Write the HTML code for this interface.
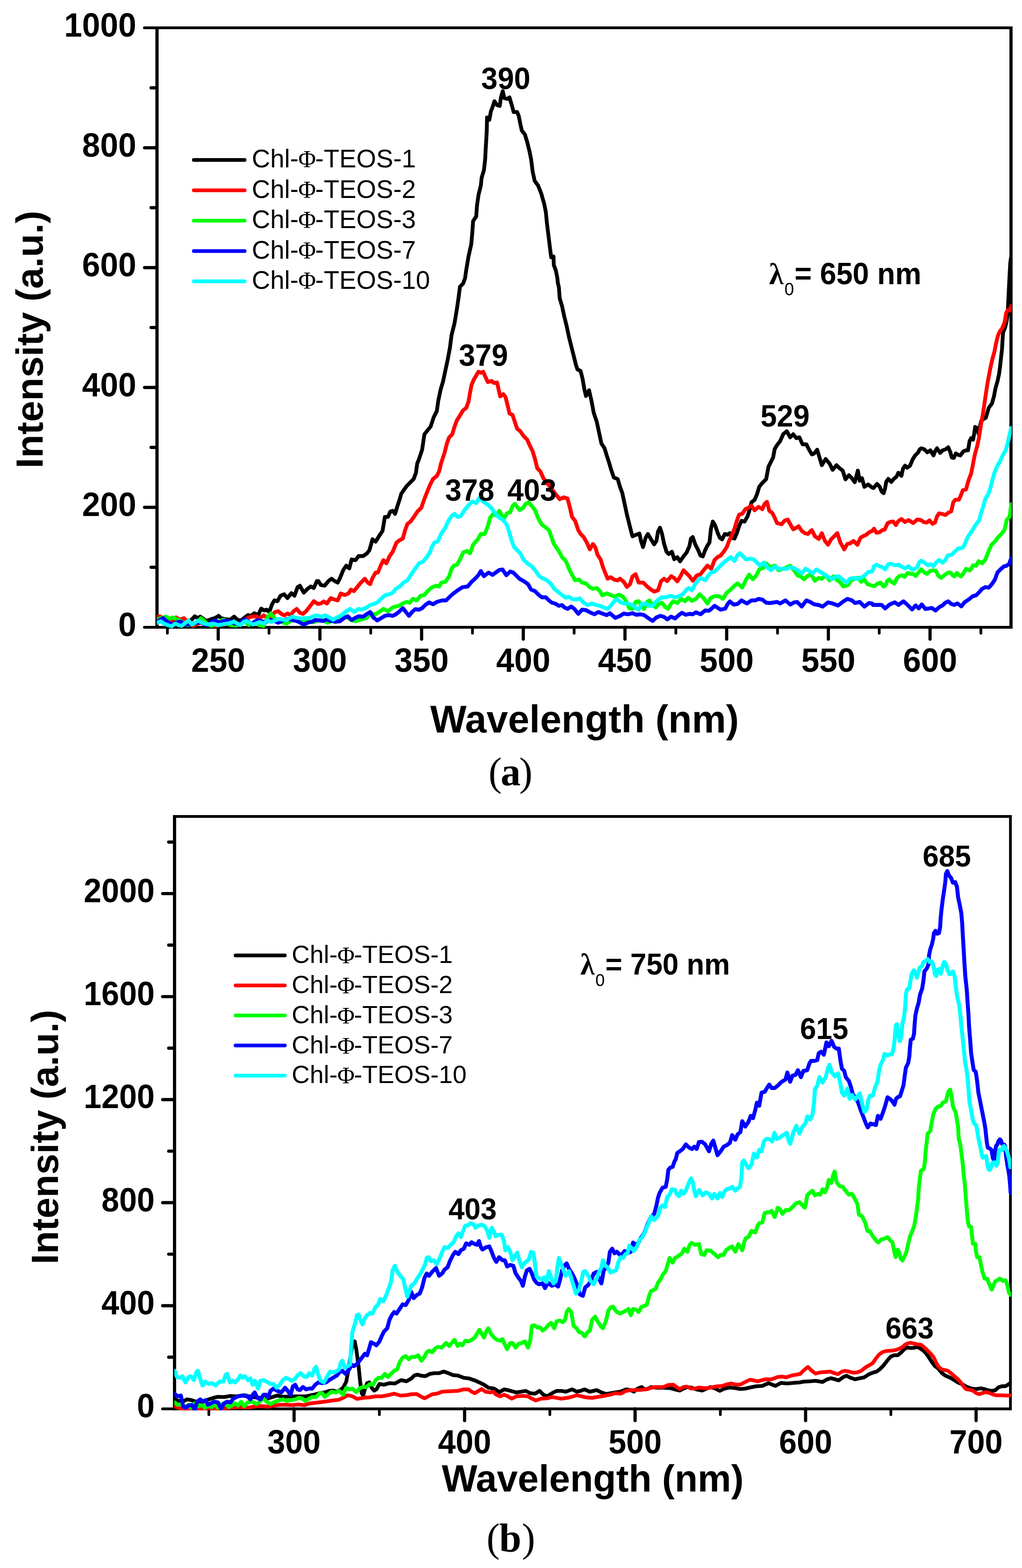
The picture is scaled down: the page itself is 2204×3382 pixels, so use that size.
<!DOCTYPE html>
<html lang="en"><head><meta charset="utf-8"><title>Fluorescence spectra</title>
<style>html,body{margin:0;padding:0;background:#fff}body{width:2204px;height:3382px}svg{display:block}text{font-family:"Liberation Sans",Arial,sans-serif;fill:#000}.b{font-weight:bold}.tk{font-weight:bold;font-size:70px}.lg{font-size:55px}.pk{font-weight:bold;font-size:63.5px}.sy{font-family:"Liberation Serif","DejaVu Serif",serif}.cap{font-family:"Liberation Serif","DejaVu Serif",serif}.ax{stroke:#000;stroke-width:6.8;fill:none;stroke-linecap:round}.cv{fill:none;stroke-linejoin:round;stroke-linecap:round}.ll{stroke-width:8;stroke-linecap:round}</style></head><body>
<svg width="2204" height="3382" viewBox="0 0 2204 3382">
<rect width="2204" height="3382" fill="#fff"/>
<g class="ax">
<path stroke-linecap="butt" stroke-width="6.9" d="M338.6 57.0 V1356.0"/>
<path stroke-linecap="butt" stroke-width="6.8" d="M2180.3 57.0 V1356.0"/>
<path stroke-width="6" d="M311.4 60.0 H2180.3"/>
<path stroke-width="6" d="M311.4 1353.0 H2180.3"/>
<path stroke-width="6.9" d="M325.8 1223.5 H338.6 M311.8 1094.3 H338.6 M325.8 965.0 H338.6 M311.8 835.8 H338.6 M325.8 706.5 H338.6 M311.8 577.3 H338.6 M325.8 448.0 H338.6 M311.8 318.8 H338.6 M325.8 189.5 H338.6 M470.6 1353.0 V1378.5 M689.9 1353.0 V1378.5 M909.2 1353.0 V1378.5 M1128.5 1353.0 V1378.5 M1347.8 1353.0 V1378.5 M1567.1 1353.0 V1378.5 M1786.4 1353.0 V1378.5 M2005.7 1353.0 V1378.5"/>
<path stroke-width="5.9" d="M361.0 1353.0 V1365.8 M580.2 1353.0 V1365.8 M799.5 1353.0 V1365.8 M1018.9 1353.0 V1365.8 M1238.2 1353.0 V1365.8 M1457.5 1353.0 V1365.8 M1676.8 1353.0 V1365.8 M1896.1 1353.0 V1365.8 M2115.3 1353.0 V1365.8"/>
</g>
<clipPath id="cla"><rect x="338.1" y="60.0" width="1843.7" height="1296.4"/></clipPath>
<g clip-path="url(#cla)">
<polyline class="cv" stroke="#000000" stroke-width="8.2" points="338.3,1333.3 346.7,1331.7 356.7,1335.0 366.7,1338.3 380.0,1337.3 393.3,1338.3 406.7,1340.7 415.0,1335.0 420.0,1329.3 426.7,1333.3 431.7,1330.0 436.7,1333.3 445.0,1339.3 456.7,1335.0 463.3,1333.3 471.7,1328.3 476.7,1333.3 483.3,1335.0 496.7,1336.7 505.0,1330.0 511.7,1336.7 520.0,1338.3 530.0,1330.0 535.0,1326.7 541.7,1328.3 548.3,1322.7 556.7,1326.7 563.3,1312.7 570.0,1316.7 575.0,1315.0 580.7,1320.0 586.7,1303.3 591.7,1295.0 598.3,1296.7 605.0,1285.0 612.7,1281.7 620.0,1290.0 628.3,1279.3 635.0,1285.0 641.7,1266.7 646.7,1263.3 655.0,1278.3 663.3,1270.0 670.0,1265.0 676.7,1268.3 683.3,1253.3 686.7,1253.3 691.7,1261.7 700.0,1263.3 708.3,1253.3 715.0,1248.3 721.7,1253.3 728.3,1256.7 733.3,1246.7 740.0,1230.0 746.7,1220.0 753.3,1226.0 758.3,1206.7 766.7,1208.3 773.3,1199.3 783.3,1199.3 791.7,1193.3 796.7,1186.7 803.3,1163.3 810.0,1168.3 818.3,1155.0 825.0,1145.0 830.0,1115.0 836.7,1115.0 841.7,1103.3 847.0,1101.7 852.0,1108.3 857.0,1091.7 862.0,1076.7 865.3,1065.0 868.7,1060.0 877.0,1048.3 883.7,1041.7 892.0,1033.3 897.0,1020.0 899.7,1000.0 903.7,990.0 910.3,970.0 915.3,936.7 922.0,928.3 928.7,920.0 935.3,900.0 942.0,886.7 945.3,863.3 950.3,840.0 955.3,823.3 960.3,800.0 965.3,776.7 970.3,750.0 973.7,723.3 980.3,696.7 985.3,666.7 988.7,643.3 992.0,618.3 998.7,611.7 1003.0,600.0 1005.3,583.3 1010.3,553.3 1016.3,526.7 1018.7,500.0 1020.3,476.7 1027.0,466.7 1028.7,443.3 1032.0,420.0 1037.0,400.0 1038.7,383.3 1043.7,366.7 1046.3,343.3 1047.7,316.7 1049.7,283.3 1050.3,253.3 1055.3,258.3 1058.7,240.0 1062.0,231.7 1066.3,218.3 1072.0,226.7 1077.7,228.3 1080.3,210.0 1084.3,196.7 1087.7,211.7 1095.3,213.3 1098.7,210.0 1103.7,226.7 1107.7,241.7 1115.3,241.7 1118.7,250.0 1122.0,266.7 1125.3,281.7 1132.0,290.0 1137.0,306.7 1142.0,326.7 1145.3,343.3 1148.7,370.0 1153.0,390.0 1160.3,400.0 1167.0,416.7 1173.7,440.0 1177.0,456.7 1179.7,483.3 1183.0,510.0 1186.3,536.7 1188.7,555.0 1193.7,553.3 1194.3,571.7 1198.7,583.3 1202.0,600.0 1203.0,610.0 1205.3,620.0 1207.0,643.3 1212.0,660.0 1217.0,683.3 1222.0,703.3 1227.0,726.7 1232.0,746.7 1237.0,766.7 1242.0,786.7 1245.3,796.7 1252.0,800.0 1256.3,816.7 1260.3,840.0 1263.7,854.0 1270.3,841.7 1275.3,863.3 1280.3,890.0 1287.0,910.0 1292.0,933.3 1297.0,956.7 1303.7,966.7 1308.7,983.3 1313.7,998.3 1317.0,1010.0 1323.7,1030.0 1332.0,1033.3 1337.0,1050.0 1342.0,1063.3 1347.0,1086.7 1352.0,1110.0 1357.0,1130.0 1362.0,1150.0 1364.0,1156.7 1372.3,1153.3 1379.0,1150.7 1382.3,1166.7 1386.7,1180.0 1392.3,1160.0 1397.3,1151.7 1404.0,1163.3 1410.7,1174.0 1415.7,1166.7 1419.0,1146.7 1423.3,1138.3 1427.3,1150.0 1432.3,1173.3 1437.3,1190.0 1442.3,1195.0 1449.0,1190.0 1454.0,1206.0 1460.7,1201.7 1466.7,1210.7 1474.0,1200.0 1480.7,1191.7 1486.7,1178.3 1490.0,1161.7 1494.0,1158.3 1499.0,1173.3 1505.7,1186.7 1510.7,1198.3 1515.7,1200.0 1520.7,1186.7 1525.7,1176.7 1530.0,1170.0 1533.3,1140.0 1537.3,1125.0 1542.3,1133.3 1547.3,1148.3 1552.3,1160.0 1557.3,1163.3 1563.3,1151.7 1569.0,1153.3 1574.0,1150.0 1579.0,1160.0 1584.0,1161.7 1589.0,1150.0 1594.0,1135.0 1599.0,1123.3 1605.7,1125.0 1612.3,1113.3 1617.3,1096.7 1620.7,1083.3 1627.3,1078.3 1632.3,1066.7 1637.3,1050.0 1644.0,1041.7 1652.3,1033.3 1657.3,1006.7 1662.3,996.7 1667.3,986.7 1670.7,968.3 1675.7,960.0 1682.3,951.7 1689.0,936.7 1696.7,930.0 1704.0,943.3 1710.7,936.7 1717.3,945.0 1724.0,943.3 1730.7,958.3 1739.0,958.3 1744.0,968.3 1750.7,980.0 1755.7,978.3 1762.3,970.0 1767.3,986.7 1772.3,1003.3 1780.7,990.0 1789.0,1000.0 1795.7,1013.3 1804.0,1003.3 1810.7,1010.0 1817.3,1015.0 1823.3,1034.0 1830.7,1025.0 1837.3,1031.7 1843.3,1040.0 1850.0,1015.0 1854.0,1036.7 1859.0,1031.7 1864.0,1050.0 1872.3,1045.0 1881.0,1051.7 1883.7,1052.6 1891.4,1043.8 1896.9,1049.3 1901.3,1060.3 1905.7,1063.6 1908.9,1052.6 1911.1,1039.5 1915.5,1032.9 1922.1,1039.5 1927.6,1032.9 1933.1,1028.5 1937.4,1019.7 1944.0,1026.3 1947.3,1011.0 1951.7,1004.4 1956.1,1008.8 1962.6,1004.4 1968.1,991.0 1973.6,982.3 1980.2,975.7 1983.5,969.1 1986.8,966.9 1993.3,969.1 1999.9,975.7 2006.5,971.3 2013.1,982.3 2016.4,973.5 2020.7,966.9 2027.3,976.8 2032.8,971.3 2039.4,969.1 2044.9,964.7 2049.2,974.6 2052.5,986.7 2056.9,987.7 2061.3,977.9 2066.8,981.2 2071.2,982.3 2077.7,973.5 2083.2,971.3 2087.6,971.3 2090.9,951.6 2094.2,945.0 2098.6,948.3 2101.8,929.7 2102.9,920.9 2107.3,923.1 2110.6,936.2 2113.9,916.5 2116.1,907.7 2121.6,903.4 2126.0,901.2 2129.2,890.2 2132.5,879.2 2139.1,870.5 2143.5,855.1 2146.8,837.6 2151.2,822.2 2154.5,806.9 2156.6,791.6 2158.8,771.8 2161.0,752.1 2162.1,732.4 2163.2,717.0 2167.6,706.1 2170.9,692.9 2173.1,675.4 2174.2,653.4 2175.3,631.5 2176.4,609.6 2177.5,587.7 2178.8,565.8 2180.3,555.9"/>
<polyline class="cv" stroke="#ff0000" stroke-width="8.3" points="338.3,1330.0 345.0,1329.3 350.0,1333.3 355.0,1337.3 363.3,1340.0 371.7,1337.3 380.0,1331.7 388.3,1336.7 396.7,1333.3 405.0,1341.7 416.7,1350.0 426.7,1345.0 436.7,1342.7 446.7,1346.7 456.7,1348.3 466.7,1350.0 476.7,1345.0 486.7,1346.7 496.7,1341.7 506.7,1343.3 516.7,1345.0 526.7,1338.3 536.7,1331.7 546.7,1329.3 553.3,1330.0 560.0,1333.3 568.3,1327.3 575.0,1331.7 583.3,1330.0 593.3,1320.0 600.0,1318.3 606.7,1324.0 613.3,1327.3 620.0,1323.3 626.7,1326.7 633.3,1318.3 640.0,1313.3 646.7,1321.7 653.3,1324.0 660.0,1318.3 666.7,1310.0 676.7,1296.7 685.0,1302.7 691.7,1301.7 698.3,1297.3 705.0,1301.7 713.3,1290.0 720.0,1292.7 728.3,1295.0 735.0,1280.0 743.3,1283.3 751.7,1280.0 756.7,1271.7 763.3,1275.0 770.0,1266.7 778.3,1256.7 786.7,1248.3 793.3,1256.7 798.3,1260.0 803.3,1246.7 810.0,1235.0 815.0,1235.0 821.7,1218.3 826.7,1208.3 833.3,1215.0 840.0,1200.0 847.0,1190.0 850.3,1181.7 855.3,1170.0 862.0,1165.0 868.7,1161.7 873.7,1143.3 878.7,1130.0 885.3,1125.0 893.7,1113.3 900.3,1103.3 908.7,1095.0 913.7,1080.0 920.3,1063.3 927.0,1046.7 933.7,1033.3 942.0,1026.7 947.0,1016.7 951.0,1000.0 953.7,991.7 958.7,976.7 963.7,956.7 968.7,943.3 975.3,936.7 980.3,920.0 985.3,906.7 993.7,893.3 998.7,885.0 1005.3,880.0 1010.3,866.7 1013.7,846.7 1017.0,830.0 1022.0,818.3 1027.0,810.0 1032.0,801.7 1037.0,804.0 1042.0,801.7 1047.0,813.3 1052.0,824.0 1060.3,821.7 1065.3,826.0 1072.0,825.0 1075.3,840.0 1078.7,855.0 1085.3,850.0 1090.3,856.7 1095.3,876.7 1098.7,891.7 1105.3,895.0 1110.3,910.0 1115.3,925.0 1122.0,930.0 1128.7,940.0 1137.0,948.3 1142.0,960.0 1148.7,973.3 1153.7,990.0 1158.7,1010.0 1165.3,1016.7 1172.0,1031.7 1180.3,1043.3 1187.0,1050.0 1193.7,1060.0 1200.3,1068.3 1207.0,1076.7 1215.3,1072.7 1223.7,1075.0 1228.7,1093.3 1233.7,1115.0 1240.3,1123.3 1247.0,1143.3 1252.0,1151.7 1258.7,1158.3 1265.3,1170.0 1272.0,1185.0 1278.7,1173.3 1283.7,1180.0 1288.7,1196.7 1295.3,1206.7 1300.3,1223.3 1307.0,1240.0 1310.3,1248.3 1317.0,1245.0 1325.3,1250.7 1332.0,1251.7 1337.0,1248.3 1345.3,1255.0 1352.0,1266.0 1358.7,1260.0 1364.0,1243.3 1370.7,1238.3 1377.3,1256.7 1387.3,1256.7 1395.7,1265.0 1404.0,1271.7 1410.7,1276.0 1419.0,1273.3 1425.7,1253.3 1432.3,1248.3 1439.0,1253.3 1447.3,1242.7 1454.0,1246.7 1460.7,1254.0 1467.3,1243.3 1474.0,1230.0 1480.7,1236.7 1487.3,1243.3 1494.0,1252.7 1502.3,1241.7 1510.7,1238.3 1517.3,1230.0 1525.7,1220.0 1534.0,1226.7 1540.7,1208.3 1547.3,1201.7 1554.0,1198.3 1560.7,1190.0 1567.3,1180.0 1572.3,1166.7 1577.3,1156.7 1584.0,1140.0 1589.0,1123.3 1594.0,1110.0 1600.7,1108.3 1607.3,1098.3 1614.0,1095.0 1620.7,1090.7 1627.3,1100.7 1635.7,1093.3 1644.0,1098.3 1649.0,1086.7 1654.0,1082.3 1659.0,1101.7 1665.7,1106.7 1670.7,1116.7 1675.7,1128.3 1685.7,1130.7 1692.3,1122.7 1699.0,1120.7 1705.7,1133.3 1710.7,1141.7 1717.3,1138.3 1722.3,1135.0 1729.0,1145.0 1735.7,1150.0 1742.3,1151.7 1750.7,1143.3 1757.3,1156.7 1765.7,1162.7 1772.3,1150.0 1779.0,1166.7 1785.7,1175.0 1792.3,1163.3 1799.0,1156.7 1805.7,1150.0 1812.3,1170.0 1820.7,1185.0 1827.3,1173.3 1834.0,1171.7 1840.7,1166.7 1849.0,1175.0 1855.7,1160.0 1860.7,1156.7 1867.3,1154.0 1874.0,1148.3 1881.0,1145.0 1884.8,1140.3 1890.3,1149.1 1896.9,1148.0 1902.4,1143.6 1907.8,1142.5 1914.4,1128.2 1921.0,1125.4 1926.5,1125.0 1932.0,1132.6 1937.4,1123.9 1944.0,1119.5 1951.7,1126.0 1959.4,1121.7 1969.2,1128.2 1978.0,1120.6 1985.7,1121.7 1992.2,1126.0 1998.8,1127.1 2004.3,1122.3 2010.9,1129.8 2016.4,1127.1 2020.7,1114.0 2025.1,1107.4 2031.7,1108.5 2039.4,1110.7 2045.9,1105.2 2051.4,1103.0 2055.8,1083.3 2060.2,1077.8 2067.9,1077.8 2072.3,1068.0 2076.6,1057.0 2083.2,1055.9 2086.5,1043.8 2089.8,1032.9 2094.2,1021.9 2096.4,1011.0 2098.6,1000.0 2099.7,993.2 2102.9,977.9 2107.3,962.5 2110.6,947.2 2112.8,934.0 2116.1,912.1 2119.4,894.6 2122.7,872.7 2126.0,850.7 2129.2,828.8 2132.5,811.3 2135.8,793.7 2140.2,774.0 2144.6,758.7 2147.9,741.1 2152.3,723.6 2155.6,715.9 2161.0,708.3 2166.5,695.1 2169.8,675.4 2173.1,668.8 2177.5,669.9 2180.8,660.0"/>
<polyline class="cv" stroke="#00ff00" stroke-width="8.4" points="338.3,1336.7 346.7,1333.3 358.3,1330.0 365.0,1335.0 371.7,1331.7 380.0,1335.0 388.3,1338.3 396.7,1343.3 403.3,1348.3 415.0,1346.7 426.7,1343.3 433.3,1333.3 440.0,1338.3 446.7,1346.7 456.7,1350.0 466.7,1345.0 476.7,1338.3 483.3,1336.7 490.0,1341.7 496.7,1348.3 510.0,1349.3 520.0,1345.0 526.7,1340.0 536.7,1348.3 550.0,1340.0 558.3,1348.3 568.3,1350.0 573.3,1340.0 578.3,1330.0 583.3,1323.3 590.0,1330.0 596.7,1340.0 606.7,1341.7 618.3,1345.0 628.3,1338.3 636.7,1338.3 646.7,1341.7 656.7,1340.0 666.7,1340.7 676.7,1341.7 686.7,1338.3 696.7,1338.3 706.7,1343.3 716.7,1338.3 723.3,1341.7 733.3,1335.0 746.7,1330.0 756.7,1337.3 766.7,1340.0 776.7,1336.7 790.0,1333.3 800.0,1323.3 810.0,1325.0 820.0,1318.3 826.7,1313.3 836.7,1318.3 847.0,1310.0 853.7,1308.3 860.3,1306.7 868.7,1301.7 877.0,1298.3 883.7,1300.0 890.3,1291.7 898.7,1295.0 907.0,1285.0 915.3,1283.3 923.7,1273.3 932.0,1266.7 940.3,1263.3 947.0,1265.0 952.0,1256.7 960.3,1255.0 968.7,1243.3 973.7,1226.7 978.7,1220.0 985.3,1218.3 992.0,1206.7 998.7,1191.7 1007.0,1188.3 1013.7,1193.3 1020.3,1175.0 1030.3,1163.3 1037.0,1151.7 1045.3,1151.7 1052.0,1135.0 1057.0,1116.7 1063.7,1108.3 1070.3,1111.7 1077.0,1101.7 1082.0,1111.7 1087.0,1118.3 1093.7,1106.7 1100.3,1105.0 1105.3,1091.7 1110.3,1086.7 1115.3,1093.3 1120.3,1100.0 1127.0,1096.7 1133.7,1086.7 1140.3,1083.3 1147.0,1091.7 1153.7,1100.0 1158.7,1113.3 1163.7,1123.3 1168.7,1131.7 1175.3,1136.7 1183.7,1143.3 1188.7,1156.7 1193.7,1171.7 1200.3,1181.7 1207.0,1191.7 1212.0,1201.7 1220.3,1210.0 1227.0,1226.7 1233.7,1240.0 1240.3,1251.7 1248.7,1250.0 1255.3,1256.7 1263.7,1258.3 1272.0,1266.7 1278.7,1270.0 1287.0,1268.3 1293.7,1275.0 1298.7,1284.0 1308.7,1280.0 1317.0,1283.3 1325.3,1286.7 1335.3,1282.7 1343.7,1287.3 1350.3,1296.7 1357.0,1311.7 1364.0,1313.3 1370.7,1298.3 1377.3,1296.7 1382.3,1305.0 1389.0,1313.3 1395.7,1298.3 1400.7,1295.0 1407.3,1305.0 1414.0,1310.0 1420.7,1303.3 1427.3,1300.0 1434.0,1308.3 1440.7,1313.3 1447.3,1301.7 1452.3,1296.7 1460.7,1300.7 1469.0,1291.7 1477.3,1296.7 1484.0,1289.3 1492.3,1296.0 1500.7,1291.7 1509.0,1281.7 1517.3,1290.0 1525.7,1301.7 1532.3,1290.0 1540.7,1286.0 1550.7,1286.0 1559.0,1291.7 1567.3,1278.3 1575.7,1271.7 1584.0,1263.3 1590.7,1258.3 1600.7,1267.3 1609.0,1250.0 1615.7,1239.3 1623.3,1249.3 1630.7,1241.7 1637.3,1228.3 1645.7,1225.0 1652.3,1215.0 1660.7,1223.3 1670.7,1220.0 1679.0,1230.0 1689.0,1226.7 1697.3,1223.3 1704.0,1220.0 1712.3,1230.0 1720.7,1241.7 1727.3,1243.3 1734.0,1249.3 1742.3,1241.7 1749.0,1238.3 1757.3,1252.7 1765.7,1246.7 1772.3,1248.3 1780.7,1240.0 1789.0,1251.7 1797.3,1243.3 1804.0,1250.0 1812.3,1256.7 1819.0,1265.0 1829.0,1261.7 1835.7,1251.7 1844.0,1248.3 1850.7,1246.0 1857.3,1255.0 1864.0,1250.0 1870.7,1260.0 1881.0,1263.3 1885.9,1264.2 1892.5,1258.7 1899.1,1256.5 1905.7,1265.2 1910.0,1262.0 1913.3,1253.2 1917.7,1249.9 1923.2,1255.4 1928.7,1258.7 1934.1,1247.7 1939.6,1242.2 1946.2,1241.1 1950.6,1244.4 1957.2,1235.7 1963.7,1237.8 1969.2,1237.8 1974.7,1242.2 1980.2,1235.7 1986.8,1228.0 1993.3,1234.6 1998.8,1237.8 2005.4,1231.9 2012.0,1230.2 2018.5,1231.3 2022.9,1241.1 2029.5,1246.6 2037.2,1240.0 2043.8,1235.7 2049.2,1234.6 2054.7,1241.1 2058.0,1243.3 2063.5,1235.7 2069.0,1241.1 2072.3,1243.3 2077.7,1236.8 2083.2,1226.9 2092.0,1230.2 2098.6,1219.2 2105.1,1220.3 2110.6,1210.4 2118.3,1214.8 2124.9,1207.2 2130.3,1192.9 2138.0,1175.4 2146.8,1166.6 2151.2,1160.0 2159.9,1151.3 2166.5,1142.5 2170.9,1121.7 2177.5,1114.0 2180.8,1087.7"/>
<polyline class="cv" stroke="#0000ff" stroke-width="8.4" points="338.3,1341.7 345.0,1336.7 351.7,1333.3 358.3,1339.3 366.7,1345.0 375.0,1347.3 383.3,1341.7 390.0,1340.7 396.7,1345.0 403.3,1347.3 410.0,1346.7 416.7,1345.0 425.0,1343.3 433.3,1341.7 440.0,1346.7 448.3,1348.3 456.7,1340.7 465.0,1338.3 473.3,1343.3 481.7,1339.3 490.0,1338.3 498.3,1341.7 506.7,1345.0 515.0,1346.7 521.7,1339.3 528.3,1336.0 535.0,1340.0 543.3,1346.7 550.0,1340.0 556.7,1337.3 563.3,1340.0 573.3,1341.7 583.3,1337.3 593.3,1340.0 600.0,1343.3 610.0,1338.3 620.0,1335.0 630.0,1337.3 640.0,1339.3 646.7,1342.7 655.0,1347.3 663.3,1343.3 673.3,1340.7 680.0,1337.3 690.0,1338.3 696.7,1339.3 705.0,1336.0 713.3,1339.3 723.3,1340.7 733.3,1340.0 741.7,1333.3 750.0,1329.3 758.3,1337.3 765.0,1333.3 773.3,1329.3 783.3,1330.0 790.0,1325.0 798.3,1320.0 805.0,1331.7 813.3,1338.3 821.7,1333.3 830.0,1328.3 838.3,1326.7 847.0,1328.3 853.7,1325.0 862.0,1318.3 868.7,1311.7 875.3,1320.0 882.0,1328.3 888.7,1320.0 895.3,1314.0 903.7,1315.0 910.3,1311.7 917.0,1305.0 925.3,1299.3 933.7,1303.3 942.0,1298.3 953.7,1295.0 962.0,1295.0 970.3,1286.7 978.7,1279.3 987.0,1273.3 997.0,1266.7 1008.7,1265.0 1017.0,1255.0 1025.3,1247.3 1032.0,1240.0 1037.0,1231.7 1043.7,1242.7 1053.7,1235.0 1062.0,1240.0 1070.3,1234.0 1077.0,1229.3 1083.7,1228.3 1092.0,1240.7 1100.3,1232.7 1107.0,1235.0 1113.7,1241.7 1120.3,1248.3 1130.3,1254.0 1138.7,1260.0 1145.3,1271.7 1153.7,1275.0 1162.0,1283.3 1168.7,1288.3 1177.0,1288.3 1183.7,1295.0 1190.3,1300.0 1197.0,1301.7 1205.3,1306.7 1212.0,1305.0 1217.0,1310.0 1223.7,1313.3 1232.0,1308.3 1238.7,1313.3 1247.0,1324.0 1255.3,1315.0 1263.7,1316.0 1272.0,1320.7 1282.0,1325.0 1290.3,1320.0 1298.7,1323.3 1308.7,1326.7 1315.3,1322.7 1327.0,1332.7 1335.3,1329.3 1345.3,1323.3 1353.7,1325.0 1364.0,1322.7 1372.3,1326.0 1380.7,1325.0 1389.0,1326.7 1397.3,1332.7 1407.3,1339.3 1415.7,1331.7 1424.0,1328.3 1432.3,1330.7 1439.0,1336.0 1447.3,1330.0 1455.7,1334.0 1464.0,1326.7 1470.7,1321.7 1479.0,1326.0 1487.3,1324.0 1494.0,1325.0 1500.7,1320.7 1510.7,1325.0 1520.7,1316.7 1529.0,1317.3 1535.7,1311.7 1540.7,1306.7 1547.3,1310.7 1554.0,1315.0 1564.0,1312.7 1569.0,1303.3 1574.0,1297.3 1582.3,1304.0 1590.7,1302.7 1599.0,1295.0 1610.7,1301.7 1620.7,1295.0 1629.0,1295.0 1635.7,1291.7 1644.0,1293.3 1652.3,1300.0 1660.7,1300.7 1669.0,1299.3 1675.7,1298.3 1682.3,1301.7 1694.0,1295.0 1704.0,1304.0 1712.3,1299.3 1719.0,1298.3 1729.0,1308.3 1739.0,1295.0 1747.3,1298.3 1755.7,1303.3 1765.7,1305.0 1774.0,1308.3 1785.7,1299.3 1795.7,1301.7 1807.3,1306.0 1817.3,1298.3 1827.3,1291.7 1837.3,1295.0 1844.0,1300.7 1854.0,1298.3 1864.0,1308.3 1874.0,1300.7 1881.0,1301.7 1882.6,1304.7 1892.5,1304.7 1901.3,1304.7 1908.9,1312.4 1918.8,1303.6 1929.8,1299.2 1937.4,1304.7 1948.4,1297.0 1956.1,1303.6 1961.5,1309.1 1967.0,1314.6 1974.7,1305.8 1981.3,1312.4 1987.9,1303.6 1995.5,1313.5 2003.2,1312.4 2009.8,1311.3 2017.4,1316.8 2026.2,1309.1 2032.8,1305.8 2038.3,1300.3 2044.9,1297.0 2051.4,1302.5 2058.0,1304.7 2064.6,1301.4 2073.3,1308.0 2079.9,1299.2 2089.8,1292.6 2097.5,1286.1 2105.1,1283.9 2111.7,1277.3 2117.2,1270.7 2124.9,1266.3 2132.5,1267.4 2139.1,1259.8 2145.7,1249.9 2151.2,1234.6 2157.7,1228.0 2165.4,1221.4 2170.9,1220.3 2176.4,1215.9 2180.8,1203.9"/>
<polyline class="cv" stroke="#00ffff" stroke-width="8.4" points="338.3,1343.3 346.7,1340.0 353.3,1345.0 361.7,1348.3 370.0,1350.7 378.3,1345.0 385.0,1348.3 391.7,1350.0 400.0,1343.3 406.7,1338.3 413.3,1346.7 420.0,1343.3 426.7,1338.3 433.3,1341.7 440.0,1345.0 450.0,1346.7 460.0,1345.0 470.0,1348.3 480.0,1346.7 490.0,1345.0 496.7,1343.3 505.0,1340.7 511.7,1345.0 518.3,1348.3 525.0,1341.7 531.7,1339.3 538.3,1343.3 545.0,1346.7 551.7,1345.0 560.0,1341.7 568.3,1345.0 576.7,1338.3 585.0,1341.7 593.3,1338.3 601.7,1335.0 610.0,1336.7 618.3,1337.3 630.0,1330.0 640.0,1332.7 650.0,1334.0 660.0,1333.3 666.7,1332.7 676.7,1329.3 683.3,1327.3 693.3,1330.0 701.7,1327.3 710.0,1331.7 718.3,1336.7 726.7,1331.7 736.7,1326.7 746.7,1318.3 755.0,1313.3 763.3,1320.0 773.3,1313.3 780.0,1315.0 788.3,1311.7 798.3,1305.0 806.7,1302.7 815.0,1298.3 823.3,1290.0 831.7,1283.3 840.0,1281.7 847.0,1278.3 853.7,1270.0 862.0,1265.0 870.3,1256.7 878.7,1251.7 887.0,1238.3 895.3,1226.7 903.7,1215.0 912.0,1211.7 920.3,1201.7 927.0,1191.7 932.0,1178.3 937.0,1170.0 943.7,1168.3 952.0,1150.0 960.3,1138.3 967.0,1123.3 973.7,1113.3 980.3,1108.3 987.0,1115.0 993.7,1113.3 1002.0,1100.0 1010.3,1090.0 1018.7,1081.7 1027.0,1085.0 1033.7,1074.0 1043.7,1083.3 1052.0,1088.3 1060.3,1096.7 1068.7,1108.3 1077.0,1116.7 1085.3,1121.7 1093.7,1133.3 1098.7,1150.0 1103.7,1166.7 1108.7,1180.0 1115.3,1186.7 1122.0,1193.3 1128.7,1206.7 1137.0,1215.0 1147.0,1221.7 1155.3,1231.7 1162.0,1241.7 1168.7,1246.7 1177.0,1250.0 1187.0,1258.3 1195.3,1270.0 1203.7,1276.7 1212.0,1283.3 1220.3,1289.3 1227.0,1287.3 1233.7,1291.7 1242.0,1293.3 1250.3,1290.7 1258.7,1300.0 1267.0,1305.0 1277.0,1301.7 1285.3,1305.0 1293.7,1306.7 1302.0,1310.0 1310.3,1313.3 1317.0,1306.7 1325.3,1296.0 1330.3,1291.7 1337.0,1298.3 1345.3,1301.7 1353.7,1301.7 1364.0,1305.0 1370.7,1311.7 1377.3,1315.0 1384.0,1302.7 1392.3,1301.7 1400.7,1306.7 1407.3,1306.7 1417.3,1295.0 1427.3,1288.3 1437.3,1288.3 1445.7,1285.0 1455.7,1288.3 1464.0,1286.0 1472.3,1281.7 1480.7,1271.7 1485.7,1268.3 1492.3,1273.3 1499.0,1260.0 1507.3,1250.0 1512.3,1246.7 1520.7,1251.7 1527.3,1241.7 1534.0,1234.0 1540.7,1233.3 1549.0,1225.0 1559.0,1215.0 1567.3,1208.3 1575.7,1201.7 1584.0,1210.0 1590.7,1196.7 1595.7,1193.3 1602.3,1200.0 1609.0,1206.7 1617.3,1205.0 1625.7,1206.7 1632.3,1213.3 1639.0,1220.0 1647.3,1213.3 1654.0,1223.3 1662.3,1230.0 1670.7,1221.7 1679.0,1226.7 1687.3,1226.7 1695.7,1227.3 1704.0,1223.3 1712.3,1225.0 1720.7,1230.0 1729.0,1236.7 1737.3,1226.7 1745.7,1231.7 1752.3,1236.7 1760.7,1228.3 1769.0,1233.3 1779.0,1240.0 1787.3,1245.0 1794.0,1249.3 1802.3,1243.3 1809.0,1243.3 1817.3,1250.0 1825.7,1256.7 1832.3,1248.3 1840.7,1246.7 1849.0,1248.3 1857.3,1246.0 1864.0,1241.7 1872.3,1234.0 1881.0,1232.7 1884.8,1221.4 1890.3,1218.1 1896.9,1221.4 1903.5,1223.6 1908.9,1228.0 1915.5,1217.0 1921.0,1215.9 1929.8,1219.2 1937.4,1218.1 1945.1,1222.5 1951.7,1225.8 1959.4,1221.4 1965.9,1228.0 1971.4,1228.0 1978.0,1223.6 1982.4,1212.6 1986.8,1209.3 1993.3,1213.7 2001.0,1219.2 2007.6,1217.0 2013.1,1221.4 2018.5,1213.7 2025.1,1207.8 2032.8,1213.7 2038.3,1208.3 2043.8,1198.4 2052.5,1196.2 2059.1,1189.6 2066.8,1183.0 2075.5,1181.9 2079.9,1175.4 2084.3,1164.4 2088.7,1155.6 2096.4,1144.7 2102.9,1133.7 2111.7,1121.7 2116.1,1105.2 2120.5,1092.1 2124.9,1075.6 2131.4,1065.8 2135.8,1052.6 2140.2,1035.1 2144.6,1019.7 2149.0,1008.8 2153.4,1000.0 2155.6,997.6 2162.1,982.3 2168.7,971.3 2173.1,956.0 2176.4,940.6 2180.8,923.1"/>
</g>
<text class="tk" text-anchor="end" transform="translate(293.9 1371.6) scale(1 1.040)">0</text>
<text class="tk" text-anchor="end" transform="translate(293.9 1113.1) scale(1 1.040)">200</text>
<text class="tk" text-anchor="end" transform="translate(293.9 854.6) scale(1 1.040)">400</text>
<text class="tk" text-anchor="end" transform="translate(293.9 596.1) scale(1 1.040)">600</text>
<text class="tk" text-anchor="end" transform="translate(293.9 337.6) scale(1 1.040)">800</text>
<text class="tk" text-anchor="end" transform="translate(293.9 79.1) scale(1 1.040)">1000</text>
<text class="tk" text-anchor="middle" transform="translate(470.6 1449.2) scale(1 1.040)">250</text>
<text class="tk" text-anchor="middle" transform="translate(689.9 1449.2) scale(1 1.040)">300</text>
<text class="tk" text-anchor="middle" transform="translate(909.2 1449.2) scale(1 1.040)">350</text>
<text class="tk" text-anchor="middle" transform="translate(1128.5 1449.2) scale(1 1.040)">400</text>
<text class="tk" text-anchor="middle" transform="translate(1347.8 1449.2) scale(1 1.040)">450</text>
<text class="tk" text-anchor="middle" transform="translate(1567.1 1449.2) scale(1 1.040)">500</text>
<text class="tk" text-anchor="middle" transform="translate(1786.4 1449.2) scale(1 1.040)">550</text>
<text class="tk" text-anchor="middle" transform="translate(2005.7 1449.2) scale(1 1.040)">600</text>
<text class="b" text-anchor="middle" font-size="83" transform="translate(1260.6 1580.3)">Wavelength (nm)</text>
<text class="b" text-anchor="middle" font-size="82" transform="translate(92.0 732.3) rotate(-90)">Intensity (a.u.)</text>
<text class="cap" text-anchor="middle" font-size="86" transform="translate(1101.0 1694.0)">(<tspan font-weight="bold" dx="-2.5">a</tspan><tspan dx="-3">)</tspan></text>
<line class="ll" x1="418.0" x2="527.5" y1="345.0" y2="345.0" stroke="#000000"/>
<text font-size="55.0" transform="translate(543.0 361.4)">Chl-<tspan class="sy" font-size="52.0" dx="-0.5">Φ</tspan><tspan dx="-1.5">-TEOS-1</tspan></text>
<line class="ll" x1="418.0" x2="527.5" y1="410.4" y2="410.4" stroke="#ff0000"/>
<text font-size="55.0" transform="translate(543.0 426.8)">Chl-<tspan class="sy" font-size="52.0" dx="-0.5">Φ</tspan><tspan dx="-1.5">-TEOS-2</tspan></text>
<line class="ll" x1="418.0" x2="527.5" y1="475.9" y2="475.9" stroke="#00ff00"/>
<text font-size="55.0" transform="translate(543.0 492.3)">Chl-<tspan class="sy" font-size="52.0" dx="-0.5">Φ</tspan><tspan dx="-1.5">-TEOS-3</tspan></text>
<line class="ll" x1="418.0" x2="527.5" y1="541.4" y2="541.4" stroke="#0000ff"/>
<text font-size="55.0" transform="translate(543.0 557.8)">Chl-<tspan class="sy" font-size="52.0" dx="-0.5">Φ</tspan><tspan dx="-1.5">-TEOS-7</tspan></text>
<line class="ll" x1="418.0" x2="527.5" y1="606.8" y2="606.8" stroke="#00ffff"/>
<text font-size="55.0" transform="translate(543.0 623.2)">Chl-<tspan class="sy" font-size="52.0" dx="-0.5">Φ</tspan><tspan dx="-1.5">-TEOS-10</tspan></text>
<text class="b" font-size="63.5" transform="translate(1658.5 612.5) scale(1 1.040)"><tspan class="sy" font-size="63.5">λ</tspan><tspan x="33.2" dy="24.0" font-weight="normal" font-size="37.0">0</tspan><tspan x="55.0" dy="-24.0">= 650 nm</tspan></text>
<text class="pk" text-anchor="middle" transform="translate(1090.8 191.6) scale(1 1.040)">390</text>
<text class="pk" text-anchor="middle" transform="translate(1042.5 788.6) scale(1 1.040)">379</text>
<text class="pk" text-anchor="middle" transform="translate(1693.0 919.5) scale(1 1.040)">529</text>
<text class="pk" text-anchor="middle" transform="translate(1013.0 1079.5) scale(1 1.040)">378</text>
<text class="pk" text-anchor="middle" transform="translate(1147.0 1079.5) scale(1 1.040)">403</text>
<g class="ax">
<path stroke-linecap="butt" stroke-width="6.9" d="M376.4 1758.0 V3041.8"/>
<path stroke-linecap="butt" stroke-width="5.9" d="M2179.0 1758.0 V3041.8"/>
<path stroke-width="6" d="M376.4 1761.0 H2179.0"/>
<path stroke-width="6" d="M350.4 3038.8 H2179.0"/>
<path stroke-width="6.9" d="M363.8 2927.3 H376.4 M350.8 2816.2 H376.4 M363.8 2705.1 H376.4 M350.8 2594.0 H376.4 M363.8 2482.9 H376.4 M350.8 2371.8 H376.4 M363.8 2260.7 H376.4 M350.8 2149.6 H376.4 M363.8 2038.5 H376.4 M350.8 1927.4 H376.4 M363.8 1816.3 H376.4 M634.2 3038.8 V3064.0 M1001.9 3038.8 V3064.0 M1369.6 3038.8 V3064.0 M1737.3 3038.8 V3064.0 M2105.0 3038.8 V3064.0"/>
<path stroke-width="5.9" d="M450.4 3038.8 V3051.3 M818.1 3038.8 V3051.3 M1185.8 3038.8 V3051.3 M1553.5 3038.8 V3051.3 M1921.2 3038.8 V3051.3"/>
</g>
<clipPath id="clb"><rect x="375.9" y="1761.0" width="1804.6" height="1281.2"/></clipPath>
<g clip-path="url(#clb)">
<polyline class="cv" stroke="#000000" stroke-width="8.1" points="376.7,3018.3 385.0,3021.7 393.3,3023.3 403.3,3018.3 413.3,3020.0 423.3,3023.3 436.7,3022.7 450.0,3018.3 460.0,3015.0 470.0,3012.7 483.3,3013.3 496.7,3011.0 510.0,3011.7 526.7,3009.3 543.3,3013.3 560.0,3015.0 576.7,3016.7 586.7,3013.3 598.3,3010.0 610.0,3012.7 626.7,3011.7 643.3,3011.7 660.0,3011.7 676.7,3008.3 690.0,3005.0 700.0,3003.3 710.0,3000.0 718.3,2999.3 726.7,3001.7 733.3,2998.3 740.0,2993.3 746.7,2980.0 751.7,2953.3 756.7,2920.0 760.7,2896.7 765.0,2893.3 768.3,2910.0 773.3,2946.7 776.7,2980.0 780.0,3005.0 783.3,3010.0 786.7,2996.7 791.7,2983.3 796.7,2981.7 801.7,2993.3 806.7,2999.3 811.7,2996.7 818.3,2985.0 828.3,2986.7 840.0,2983.3 851.7,2984.0 865.0,2976.7 876.7,2979.3 887.0,2973.3 893.7,2966.7 900.3,2965.0 908.7,2967.3 917.0,2968.3 927.0,2963.3 937.0,2961.7 947.0,2961.7 957.0,2958.3 967.0,2961.7 977.0,2966.0 987.0,2966.7 1000.3,2971.7 1012.0,2973.3 1023.7,2977.3 1033.7,2981.7 1043.7,2986.7 1053.7,2993.3 1065.3,2995.0 1077.0,3002.7 1087.0,2996.7 1095.3,2998.3 1103.7,3000.7 1113.7,3003.3 1123.7,3001.7 1133.7,3000.0 1143.7,3005.0 1153.7,3006.0 1163.7,3000.0 1172.0,3008.3 1180.3,3011.7 1190.3,3005.0 1200.3,3000.0 1210.3,3000.0 1220.3,3001.7 1233.7,2996.7 1243.7,3001.7 1252.0,3000.0 1260.3,2996.7 1272.0,3001.7 1287.0,2998.3 1297.0,3003.3 1307.0,3006.7 1317.0,3005.0 1327.0,3003.3 1337.0,3001.7 1350.3,2996.7 1360.3,2998.3 1367.0,3001.7 1375.3,2995.0 1383.7,2991.7 1390.3,2996.7 1398.7,2995.0 1404.0,2991.7 1417.3,2993.3 1430.7,2993.3 1447.3,2994.3 1457.3,2997.3 1465.7,2999.3 1474.0,2995.0 1482.3,2991.7 1492.3,2993.3 1504.0,2997.3 1514.0,2999.3 1524.0,2995.0 1532.3,2991.7 1542.3,2995.0 1552.3,3000.0 1562.3,2995.0 1574.0,2992.7 1585.7,2994.0 1597.3,2996.0 1607.3,2995.0 1617.3,2992.7 1630.7,2990.0 1644.0,2989.3 1657.3,2983.3 1664.0,2986.0 1672.3,2989.3 1684.0,2982.7 1697.3,2984.0 1710.7,2982.7 1724.0,2981.7 1734.0,2980.0 1747.3,2979.3 1759.0,2978.3 1774.0,2980.7 1784.0,2975.0 1792.3,2972.7 1800.7,2975.0 1809.0,2977.3 1819.0,2970.0 1825.7,2967.3 1834.0,2971.7 1844.0,2975.0 1854.0,2972.7 1864.0,2970.7 1874.0,2964.0 1882.3,2960.7 1890.7,2958.3 1897.3,2953.3 1904.0,2946.7 1910.7,2938.3 1917.3,2930.0 1921.0,2926.0 1928.6,2923.0 1936.1,2923.0 1943.6,2917.0 1949.8,2910.5 1956.1,2906.3 1963.6,2907.5 1971.1,2907.0 1978.6,2905.0 1986.1,2909.5 1993.6,2915.0 2001.1,2924.5 2008.6,2936.3 2016.1,2946.3 2023.6,2952.1 2031.1,2961.3 2038.6,2967.1 2048.6,2971.3 2056.2,2975.6 2066.2,2982.1 2076.2,2986.3 2084.9,2991.3 2093.7,2994.6 2103.7,2996.3 2114.9,2994.6 2123.7,2996.3 2131.2,2998.8 2138.7,3000.1 2146.2,2998.8 2153.7,2992.1 2160.0,2990.1 2168.7,2989.6 2176.2,2985.1 2179.2,2982.6"/>
<polyline class="cv" stroke="#ff0000" stroke-width="8.0" points="376.7,3033.3 390.0,3038.3 403.3,3038.3 420.0,3037.3 436.7,3038.3 453.3,3037.3 470.0,3038.3 486.7,3036.7 503.3,3036.0 520.0,3035.0 536.7,3036.0 550.0,3033.3 563.3,3032.7 576.7,3034.0 590.0,3031.7 603.3,3030.0 616.7,3030.0 630.0,3030.7 643.3,3029.3 656.7,3030.7 670.0,3026.7 686.7,3025.0 703.3,3022.7 716.7,3020.7 730.0,3019.3 740.0,3015.0 750.0,3009.3 760.0,3011.7 770.0,3017.3 783.3,3015.0 796.7,3014.0 810.0,3011.7 823.3,3011.7 836.7,3009.3 850.0,3006.0 863.3,3010.0 876.7,3009.3 887.0,3007.3 898.7,3006.7 907.0,3011.7 915.3,3016.0 923.7,3011.7 932.0,3007.3 942.0,3006.0 953.7,3001.7 970.3,3000.7 987.0,3000.0 1000.3,2996.7 1010.3,2996.7 1017.0,3001.7 1023.7,3005.0 1032.0,3000.0 1038.7,2996.0 1047.0,3001.7 1057.0,3003.3 1063.7,3001.7 1070.3,3008.3 1078.7,3011.7 1087.0,3008.3 1095.3,3011.7 1103.7,3016.7 1113.7,3011.7 1127.0,3010.7 1138.7,3011.7 1147.0,3016.7 1155.3,3020.7 1167.0,3016.7 1180.3,3016.0 1190.3,3013.3 1200.3,3015.0 1210.3,3016.7 1223.7,3015.0 1233.7,3012.7 1243.7,3009.3 1253.7,3011.7 1263.7,3014.0 1277.0,3015.0 1290.3,3012.7 1303.7,3010.7 1315.3,3008.3 1327.0,3005.0 1338.7,3006.0 1350.3,3000.0 1360.3,2998.3 1373.7,2998.3 1387.0,2997.3 1397.0,2996.0 1404.0,2993.3 1414.0,2991.7 1430.7,2991.7 1440.7,2987.3 1452.3,2986.7 1459.0,2991.7 1465.7,2996.0 1474.0,2991.7 1480.7,2990.7 1490.7,2995.0 1499.0,2995.0 1507.3,2992.7 1517.3,2994.0 1527.3,2994.0 1537.3,2991.7 1547.3,2990.0 1557.3,2989.3 1567.3,2986.0 1577.3,2984.0 1587.3,2986.7 1597.3,2986.0 1607.3,2980.7 1617.3,2976.0 1625.7,2977.3 1634.0,2979.3 1644.0,2976.7 1650.7,2975.0 1664.0,2975.0 1677.3,2970.0 1687.3,2969.3 1695.7,2970.7 1707.3,2966.7 1717.3,2965.0 1725.7,2963.3 1734.0,2955.0 1742.3,2948.3 1750.7,2956.7 1759.0,2962.7 1769.0,2960.0 1780.7,2959.3 1790.7,2958.3 1799.0,2961.7 1807.3,2964.0 1815.7,2958.3 1822.3,2956.7 1830.7,2958.3 1839.0,2960.7 1849.0,2960.0 1857.3,2956.7 1865.7,2950.0 1874.0,2945.0 1882.3,2940.0 1889.0,2930.0 1895.7,2921.7 1902.3,2916.7 1910.7,2914.0 1921.0,2913.3 1928.6,2912.5 1938.6,2909.5 1946.1,2905.5 1952.3,2900.0 1958.6,2897.0 1964.8,2896.3 1971.1,2898.0 1978.6,2899.5 1986.1,2900.5 1993.6,2906.3 2001.1,2913.8 2008.6,2921.3 2013.6,2927.5 2018.6,2938.8 2023.6,2947.6 2029.9,2953.1 2036.1,2954.6 2043.6,2956.3 2051.2,2962.1 2058.7,2968.8 2066.2,2975.1 2073.7,2983.8 2078.7,2991.3 2083.7,2996.3 2091.2,2997.6 2098.7,2999.6 2104.9,3004.6 2111.2,3007.1 2118.7,3004.6 2126.2,3002.6 2133.7,3004.6 2141.2,3007.6 2148.7,3009.6 2158.7,3009.6 2168.7,3010.1 2179.2,3010.1"/>
<polyline class="cv" stroke="#00ff00" stroke-width="8.4" points="376.7,3025.0 383.3,3030.0 390.0,3028.3 396.7,3035.0 406.7,3030.0 411.7,3036.7 418.3,3028.3 423.3,3025.0 428.3,3033.3 436.7,3030.0 441.7,3036.7 450.0,3031.7 456.7,3035.0 463.3,3028.3 470.0,3036.7 478.3,3028.3 486.7,3026.7 493.3,3035.0 500.0,3031.7 506.7,3026.7 513.3,3031.7 520.0,3023.3 526.7,3033.3 533.3,3025.0 543.3,3023.3 553.3,3028.3 560.0,3023.3 566.7,3015.0 575.0,3023.3 583.3,3028.3 593.3,3023.3 603.3,3020.0 610.0,3018.3 618.3,3021.7 626.7,3020.0 636.7,3018.3 645.0,3015.0 651.7,3016.7 658.3,3021.7 666.7,3016.7 673.3,3013.3 681.7,3013.3 688.3,3006.0 695.0,3005.0 700.0,3012.7 706.7,3008.3 715.0,3001.7 723.3,3003.3 731.7,3000.0 740.0,3008.3 746.7,2993.3 753.3,2996.7 760.0,2995.0 768.3,3002.7 775.0,2995.0 781.7,2991.7 790.0,2991.7 798.3,2985.0 805.0,2986.7 810.0,2976.7 816.7,2971.7 823.3,2971.7 830.0,2963.3 836.7,2970.0 843.3,2963.3 850.0,2956.7 856.7,2953.3 861.7,2938.3 868.3,2928.3 875.0,2925.0 881.7,2931.7 887.0,2926.7 895.3,2926.7 902.0,2923.3 908.7,2935.0 915.3,2926.7 920.3,2916.7 925.3,2913.3 932.0,2916.7 938.7,2908.3 945.3,2905.0 952.0,2906.7 957.0,2901.7 962.0,2896.7 968.7,2903.3 975.3,2895.0 980.3,2890.0 987.0,2903.3 992.0,2898.3 997.0,2901.7 1003.7,2891.7 1010.3,2893.3 1017.0,2890.0 1023.7,2885.0 1028.7,2876.7 1033.7,2868.3 1038.7,2876.7 1043.7,2885.0 1048.7,2871.7 1053.0,2865.0 1058.7,2876.7 1065.3,2885.0 1072.0,2890.0 1078.7,2891.7 1083.7,2888.3 1088.7,2900.0 1093.7,2910.0 1100.3,2896.7 1105.3,2896.7 1112.0,2906.7 1118.7,2898.3 1125.3,2896.7 1132.0,2893.3 1138.7,2906.7 1143.7,2890.0 1147.0,2860.0 1152.0,2858.3 1158.7,2863.3 1165.3,2863.3 1170.3,2870.0 1177.0,2865.0 1182.0,2858.3 1188.7,2853.3 1195.3,2865.0 1200.3,2850.0 1207.0,2848.3 1213.7,2851.7 1218.7,2846.7 1222.0,2830.0 1226.3,2823.3 1232.0,2830.0 1237.0,2860.0 1243.7,2865.0 1248.7,2873.3 1255.3,2875.0 1261.0,2882.7 1267.0,2873.3 1272.0,2870.0 1277.0,2846.7 1283.7,2840.0 1288.7,2850.0 1295.3,2860.0 1300.3,2865.0 1307.0,2848.3 1312.0,2826.7 1317.0,2820.0 1322.0,2818.3 1328.7,2828.3 1337.0,2833.3 1343.7,2830.0 1350.3,2826.7 1355.3,2823.3 1360.3,2836.7 1365.3,2823.3 1372.0,2825.0 1377.0,2830.0 1383.7,2818.3 1390.3,2816.7 1395.3,2813.3 1400.3,2793.3 1404.0,2785.0 1414.0,2780.0 1419.0,2766.7 1424.0,2760.0 1429.0,2750.0 1435.7,2741.7 1440.0,2726.7 1444.0,2713.3 1450.7,2723.3 1455.7,2713.3 1464.0,2708.3 1470.7,2703.3 1475.7,2693.3 1482.3,2700.0 1487.3,2685.0 1491.3,2680.7 1499.0,2685.0 1507.3,2683.3 1512.3,2705.0 1519.0,2706.7 1524.0,2696.7 1532.3,2697.3 1539.0,2703.3 1549.0,2711.7 1554.0,2706.7 1560.7,2706.7 1565.7,2696.7 1572.3,2691.7 1579.0,2688.3 1585.7,2700.0 1592.3,2683.3 1600.7,2696.7 1605.7,2676.7 1609.0,2670.0 1614.0,2668.3 1620.7,2655.0 1629.0,2658.3 1634.0,2643.3 1637.3,2638.3 1644.0,2636.7 1649.0,2616.7 1654.0,2615.0 1659.0,2615.0 1664.0,2611.7 1670.7,2625.0 1677.3,2605.0 1682.3,2608.3 1687.3,2618.3 1694.0,2610.0 1702.3,2610.0 1709.0,2603.3 1717.3,2595.0 1724.0,2593.3 1729.0,2598.3 1735.7,2605.0 1738.0,2596.7 1740.7,2578.3 1745.7,2573.3 1752.3,2568.3 1757.3,2578.3 1764.0,2575.0 1769.0,2576.7 1774.0,2565.0 1779.0,2571.7 1784.0,2560.0 1787.3,2545.0 1792.3,2551.7 1797.3,2533.3 1800.0,2526.7 1804.0,2550.0 1810.7,2558.3 1817.3,2560.0 1822.3,2566.7 1830.7,2576.7 1837.3,2575.0 1844.0,2586.7 1849.0,2596.7 1852.3,2620.0 1859.0,2623.3 1865.7,2636.7 1870.7,2655.0 1875.7,2655.0 1882.3,2666.7 1889.0,2675.0 1894.0,2680.0 1900.7,2673.3 1907.3,2671.7 1914.0,2668.3 1921.0,2676.7 1924.8,2680.2 1928.6,2700.2 1931.6,2711.5 1936.1,2695.2 1939.8,2702.7 1942.3,2714.0 1946.1,2719.0 1951.1,2708.9 1954.8,2700.2 1958.6,2682.7 1962.3,2667.7 1967.3,2655.2 1971.6,2643.9 1974.9,2625.1 1977.4,2607.6 1979.9,2587.6 1981.1,2565.1 1983.6,2542.6 1986.1,2525.1 1992.4,2521.3 1994.9,2502.6 1996.6,2480.1 1998.6,2462.5 2000.6,2445.0 2006.1,2440.0 2008.6,2425.0 2012.4,2405.0 2013.6,2400.4 2018.6,2390.4 2023.6,2386.6 2028.6,2385.4 2033.6,2377.8 2039.9,2375.3 2043.6,2360.3 2046.1,2352.8 2049.2,2350.3 2052.4,2365.3 2054.9,2385.4 2057.4,2391.6 2061.2,2400.4 2063.7,2415.4 2066.2,2429.9 2067.4,2455.0 2071.2,2470.0 2073.7,2490.1 2076.2,2510.1 2078.2,2532.6 2080.7,2555.1 2082.4,2575.1 2083.7,2595.1 2085.7,2617.6 2087.4,2635.2 2089.9,2645.2 2094.2,2646.4 2096.2,2665.2 2098.2,2682.7 2103.2,2682.7 2104.9,2700.2 2107.4,2711.5 2112.4,2711.5 2114.9,2725.2 2118.7,2742.7 2123.2,2757.7 2128.7,2757.7 2133.2,2769.0 2138.7,2781.5 2142.5,2772.7 2146.2,2764.0 2152.5,2760.2 2156.2,2757.7 2162.5,2762.7 2168.7,2761.5 2172.5,2772.7 2175.7,2787.7 2179.2,2792.8"/>
<polyline class="cv" stroke="#0000ff" stroke-width="8.5" points="376.7,3006.7 383.3,3011.7 390.0,3010.0 395.0,3033.3 400.0,3036.7 406.7,3031.7 413.3,3030.0 420.0,3040.0 425.0,3023.3 431.7,3018.3 438.3,3023.3 443.3,3020.0 448.3,3030.0 455.0,3026.7 461.7,3023.3 470.0,3025.0 476.7,3038.3 483.3,3026.7 490.0,3023.3 496.7,3025.0 503.3,3016.7 513.3,3011.7 523.3,3010.0 533.3,3011.7 540.0,3018.3 545.0,3008.3 549.3,3003.3 555.0,3015.0 561.7,3018.3 568.3,3008.3 573.3,3008.3 578.3,3013.3 583.3,3000.0 590.0,2995.0 598.3,3000.0 606.7,3003.3 615.0,2993.3 621.7,3001.7 626.7,3008.3 631.7,2990.0 636.7,2986.7 641.7,2996.7 646.7,2998.3 653.3,2991.7 660.0,2996.7 666.7,2995.0 673.3,2995.0 680.0,2986.7 686.7,2981.7 695.0,2983.3 703.3,2981.7 710.0,2976.7 718.3,2971.7 726.7,2966.7 731.7,2960.0 738.3,2956.7 745.0,2963.3 753.3,2953.3 758.3,2943.3 763.3,2946.7 770.0,2941.7 776.7,2933.3 781.7,2926.7 786.7,2920.0 791.7,2923.3 796.7,2906.7 800.0,2895.0 806.7,2898.3 811.7,2901.7 818.3,2893.3 823.3,2881.7 828.3,2871.7 835.0,2865.0 840.0,2846.7 845.0,2836.7 850.0,2830.0 855.0,2833.3 861.7,2823.3 868.3,2813.3 875.0,2815.0 881.7,2803.3 887.0,2786.7 892.0,2800.0 898.7,2793.3 905.3,2790.0 910.3,2776.7 915.3,2756.7 920.3,2746.7 925.3,2751.7 932.0,2743.3 940.3,2735.0 947.0,2751.7 953.7,2746.7 958.7,2738.3 965.3,2733.3 970.3,2720.0 977.0,2706.7 982.0,2700.0 988.7,2705.0 993.7,2696.7 1000.3,2693.3 1005.3,2681.7 1012.0,2685.0 1017.0,2679.3 1023.7,2683.3 1028.7,2685.0 1033.0,2676.7 1037.0,2690.0 1040.3,2695.0 1048.7,2690.0 1055.3,2688.3 1060.3,2700.0 1065.3,2713.3 1070.3,2721.7 1076.3,2711.7 1083.7,2718.3 1088.7,2718.3 1093.7,2731.7 1100.3,2728.3 1107.0,2730.0 1112.0,2746.7 1118.7,2756.7 1123.7,2763.3 1127.7,2773.3 1132.0,2753.3 1136.3,2740.0 1142.0,2736.7 1147.0,2746.7 1152.0,2760.0 1157.0,2766.7 1162.0,2770.0 1170.3,2768.3 1175.3,2778.3 1182.0,2766.7 1190.3,2773.3 1197.0,2770.0 1203.7,2775.0 1208.7,2756.7 1212.0,2740.0 1217.0,2730.0 1222.0,2725.0 1227.0,2736.7 1233.7,2746.7 1238.7,2756.7 1245.3,2773.3 1250.3,2791.7 1257.0,2795.0 1262.0,2776.7 1268.7,2771.7 1275.3,2760.0 1280.3,2746.7 1287.0,2743.3 1292.0,2758.3 1297.0,2768.3 1302.0,2740.0 1307.0,2733.3 1312.0,2723.3 1315.3,2700.0 1320.3,2693.3 1325.3,2703.3 1330.3,2700.0 1337.0,2706.7 1342.0,2705.0 1347.0,2698.3 1353.7,2703.3 1360.3,2700.0 1365.3,2680.0 1370.3,2685.0 1377.0,2680.0 1382.0,2670.0 1387.0,2663.3 1392.0,2653.3 1397.0,2640.0 1402.0,2628.3 1404.0,2625.0 1410.7,2618.3 1415.7,2600.0 1419.0,2583.3 1422.3,2573.3 1429.0,2561.7 1435.7,2560.0 1439.0,2543.3 1441.3,2523.3 1445.7,2518.3 1450.7,2516.7 1454.0,2506.7 1457.3,2500.0 1460.7,2486.7 1465.7,2483.3 1472.3,2478.3 1479.0,2468.3 1485.7,2475.0 1492.3,2478.3 1497.3,2473.3 1502.3,2478.3 1507.3,2463.3 1514.0,2462.7 1520.7,2468.3 1529.0,2483.3 1534.0,2466.7 1538.3,2460.0 1544.0,2480.0 1547.3,2491.7 1554.0,2483.3 1560.7,2473.3 1567.3,2470.0 1574.0,2465.0 1579.0,2448.3 1585.7,2458.3 1590.7,2446.7 1596.7,2441.7 1600.7,2418.3 1607.3,2430.0 1614.0,2420.0 1619.0,2406.7 1624.0,2411.7 1629.0,2393.3 1632.3,2378.3 1637.3,2385.0 1642.3,2356.7 1649.0,2355.0 1654.0,2346.7 1659.0,2339.3 1664.0,2346.7 1670.7,2346.7 1677.3,2341.7 1685.7,2333.3 1694.0,2328.3 1698.0,2313.3 1704.0,2333.3 1709.0,2320.0 1715.7,2318.3 1720.7,2308.3 1727.3,2323.3 1732.3,2310.0 1740.7,2308.3 1745.7,2293.3 1749.0,2288.3 1755.7,2288.3 1762.3,2286.7 1765.7,2271.7 1770.7,2268.3 1776.7,2275.0 1782.3,2248.3 1787.3,2256.7 1793.3,2245.0 1799.0,2258.3 1804.0,2261.7 1809.0,2261.7 1812.3,2286.7 1815.7,2305.0 1820.7,2310.0 1824.0,2323.3 1830.7,2331.7 1835.7,2346.7 1839.0,2360.0 1844.0,2366.7 1850.7,2378.3 1855.7,2393.3 1862.3,2410.0 1867.3,2423.3 1871.3,2431.7 1877.3,2423.3 1884.0,2425.0 1889.0,2426.7 1893.3,2406.7 1899.0,2413.3 1904.0,2400.0 1909.0,2385.0 1914.0,2366.7 1921.0,2371.7 1926.1,2377.8 1929.1,2382.8 1932.3,2370.3 1936.1,2366.6 1941.1,2364.1 1944.8,2352.8 1948.6,2340.3 1951.1,2320.3 1953.6,2302.8 1958.6,2292.8 1961.1,2277.8 1962.3,2260.3 1964.1,2242.8 1968.6,2240.3 1971.1,2230.3 1972.4,2210.2 1974.1,2190.2 1977.4,2175.2 1981.1,2162.7 1984.1,2145.2 1988.6,2132.7 1991.1,2117.7 1993.6,2095.2 1998.6,2088.9 2002.4,2080.2 2003.6,2060.1 2006.1,2047.6 2009.9,2036.4 2012.4,2025.1 2014.1,2012.6 2017.4,2007.6 2021.1,2013.9 2024.9,2012.6 2027.4,2000.1 2028.6,1980.1 2030.6,1960.1 2033.1,1940.1 2036.1,1920.1 2038.6,1902.5 2039.9,1885.0 2043.1,1878.8 2046.1,1887.5 2051.2,1893.8 2054.9,1903.8 2059.9,1902.5 2063.7,1912.5 2066.2,1935.1 2069.9,1952.6 2073.2,1970.1 2074.9,1990.1 2076.2,2015.1 2078.2,2047.6 2079.9,2077.7 2081.7,2105.2 2084.9,2135.2 2086.7,2162.7 2088.7,2190.2 2089.9,2215.2 2092.4,2245.3 2094.2,2270.3 2097.4,2292.8 2099.9,2307.8 2104.2,2311.6 2106.7,2327.8 2108.2,2340.3 2109.8,2355.9 2113.0,2371.7 2116.1,2387.6 2119.3,2403.4 2122.5,2419.3 2125.1,2435.2 2126.7,2451.0 2128.3,2464.8 2130.4,2475.3 2135.2,2477.5 2138.3,2480.6 2139.9,2490.1 2141.5,2498.6 2143.1,2501.8 2145.2,2498.6 2146.3,2488.0 2146.8,2477.5 2148.4,2471.1 2151.0,2468.5 2153.1,2461.6 2156.3,2457.4 2159.0,2460.5 2161.1,2467.9 2165.8,2469.0 2167.9,2473.2 2168.5,2482.7 2169.5,2493.3 2171.1,2503.9 2172.7,2514.5 2174.8,2525.0 2176.4,2535.6 2177.5,2546.2 2178.5,2556.8 2179.4,2572.6"/>
<polyline class="cv" stroke="#00ffff" stroke-width="8.6" points="376.7,2956.7 381.7,2970.0 388.3,2971.7 393.3,2968.3 400.0,2981.7 406.7,2970.0 411.7,2968.3 418.3,2976.7 423.3,2960.0 426.7,2956.7 431.7,2973.3 436.7,2988.3 443.3,2980.0 450.0,2985.0 456.7,2983.3 465.0,2988.3 473.3,2980.0 481.7,2980.0 486.7,2965.0 490.0,2963.3 496.0,2981.7 501.7,2978.3 506.7,2981.7 513.3,2975.0 518.3,2966.7 523.3,2971.7 528.3,2968.3 535.0,2976.7 540.0,2973.3 545.0,2986.7 550.0,2978.3 556.7,2995.0 561.7,2978.3 568.3,2976.7 575.0,2980.0 583.3,2985.0 590.0,2985.0 596.7,2993.3 603.3,2986.7 610.0,2976.7 616.7,2971.7 623.3,2975.0 630.0,2978.3 636.7,2973.3 643.3,2965.0 648.3,2961.7 655.0,2968.3 661.7,2970.0 666.7,2961.7 673.3,2966.7 678.3,2951.7 681.7,2948.3 686.7,2966.7 691.7,2978.3 698.3,2981.7 705.0,2970.0 711.7,2958.3 718.3,2960.0 725.0,2958.3 731.7,2953.3 735.0,2938.3 738.3,2935.0 743.3,2950.0 750.0,2946.7 755.0,2943.3 756.7,2913.3 760.0,2873.3 765.0,2856.7 770.0,2836.7 773.3,2835.0 778.3,2850.0 781.7,2856.7 786.7,2843.3 791.7,2836.7 798.3,2831.7 803.3,2833.3 810.0,2818.3 815.0,2815.0 820.0,2801.7 826.7,2806.7 831.7,2796.7 836.7,2783.3 843.3,2765.0 846.7,2740.0 851.7,2730.0 856.7,2743.3 863.3,2751.7 870.0,2760.0 875.0,2783.3 878.3,2796.7 883.3,2783.3 887.0,2773.3 893.7,2768.3 900.3,2756.7 907.0,2746.7 912.0,2736.7 917.0,2726.7 920.3,2713.3 924.3,2711.7 928.7,2720.0 935.3,2718.3 942.0,2726.7 948.7,2713.3 953.7,2700.0 958.7,2690.0 965.3,2691.7 972.0,2685.0 978.7,2678.3 983.7,2666.7 988.7,2660.0 993.7,2668.3 998.7,2655.0 1003.7,2643.3 1008.7,2643.3 1015.3,2638.3 1022.0,2641.7 1025.3,2648.3 1032.0,2643.3 1038.7,2641.7 1045.3,2645.0 1050.3,2653.3 1055.3,2670.0 1060.3,2648.3 1065.3,2656.7 1068.7,2666.7 1075.3,2663.3 1082.0,2663.3 1087.0,2676.7 1089.7,2696.7 1095.3,2690.0 1100.3,2700.0 1105.3,2718.3 1110.3,2710.0 1115.3,2701.7 1120.3,2720.0 1125.3,2733.3 1132.0,2723.3 1140.3,2716.7 1145.3,2700.0 1150.3,2701.7 1153.7,2726.7 1157.0,2753.3 1162.0,2756.7 1168.7,2760.0 1173.7,2755.0 1178.7,2765.0 1183.7,2741.7 1188.7,2756.7 1193.7,2768.3 1198.7,2763.3 1202.0,2733.3 1205.3,2713.3 1210.3,2726.7 1215.3,2740.0 1220.3,2751.7 1227.0,2741.7 1232.0,2756.7 1237.0,2773.3 1242.0,2790.0 1248.7,2781.7 1253.7,2763.3 1257.7,2743.3 1262.0,2741.7 1268.7,2751.7 1273.7,2763.3 1280.3,2770.0 1287.0,2756.7 1292.0,2743.3 1297.0,2733.3 1300.3,2718.3 1305.3,2730.0 1310.3,2733.3 1317.0,2745.0 1323.7,2741.7 1328.7,2740.0 1333.7,2721.7 1338.7,2711.7 1343.7,2713.3 1348.7,2705.0 1353.7,2703.3 1357.0,2686.7 1362.0,2691.7 1367.0,2698.3 1373.7,2688.3 1378.7,2675.0 1385.3,2668.3 1392.0,2655.0 1398.7,2638.3 1404.0,2623.3 1410.7,2631.7 1419.0,2623.3 1424.0,2605.0 1429.0,2600.0 1434.0,2603.3 1439.0,2581.7 1444.0,2576.7 1449.0,2565.0 1455.7,2566.7 1459.0,2575.0 1464.0,2580.0 1469.0,2568.3 1474.0,2575.0 1479.0,2568.3 1484.0,2555.0 1490.0,2541.7 1494.0,2550.0 1497.3,2568.3 1500.7,2580.0 1507.3,2566.7 1515.7,2578.3 1522.3,2571.7 1529.0,2575.0 1535.7,2585.0 1540.7,2575.0 1547.3,2585.0 1552.3,2573.3 1557.3,2581.7 1562.3,2570.0 1567.3,2565.0 1574.0,2563.3 1579.0,2560.0 1585.7,2568.3 1590.7,2563.3 1595.7,2560.0 1599.0,2540.0 1600.7,2506.7 1604.0,2503.3 1609.0,2511.7 1614.0,2520.0 1620.7,2511.7 1625.7,2488.3 1632.3,2496.7 1637.3,2480.0 1642.3,2483.3 1647.3,2461.7 1652.3,2456.7 1659.0,2456.7 1665.7,2461.7 1670.0,2443.3 1675.7,2456.7 1682.3,2453.3 1689.0,2448.3 1696.7,2443.3 1700.7,2460.0 1704.0,2467.3 1710.7,2443.3 1717.3,2428.3 1724.0,2445.0 1730.7,2430.0 1737.3,2423.3 1740.7,2408.3 1747.3,2415.0 1752.3,2403.3 1755.7,2376.7 1757.3,2350.0 1762.3,2341.7 1767.3,2323.3 1774.0,2335.0 1780.7,2323.3 1785.7,2303.3 1789.0,2296.7 1794.0,2313.3 1800.7,2321.7 1807.3,2315.0 1812.3,2336.7 1815.7,2356.7 1820.7,2363.3 1826.7,2348.3 1832.3,2370.0 1837.3,2361.7 1844.0,2371.7 1849.0,2365.0 1854.0,2358.3 1859.0,2380.0 1864.0,2398.3 1869.0,2393.3 1872.3,2373.3 1875.7,2363.3 1882.3,2363.3 1887.3,2345.0 1892.3,2333.3 1895.7,2310.0 1899.0,2296.7 1904.0,2286.7 1907.3,2273.3 1914.0,2276.7 1921.0,2273.3 1923.6,2274.0 1927.3,2260.3 1929.8,2237.8 1931.6,2212.7 1934.1,2209.0 1937.3,2230.3 1940.6,2245.3 1943.6,2235.3 1946.1,2207.7 1949.8,2192.7 1952.3,2170.2 1953.6,2145.2 1956.1,2133.9 1961.1,2131.4 1963.6,2115.2 1966.1,2100.2 1970.6,2092.7 1973.6,2097.7 1977.4,2108.9 1981.1,2095.2 1983.6,2086.4 1988.6,2083.9 1991.1,2075.2 1996.1,2072.6 2000.6,2068.9 2004.9,2075.2 2009.9,2073.9 2013.6,2085.2 2016.1,2100.2 2019.1,2105.2 2022.4,2091.4 2026.1,2090.2 2029.1,2100.2 2032.4,2085.2 2036.1,2074.7 2039.9,2078.9 2043.6,2092.7 2047.4,2101.4 2051.2,2100.2 2054.9,2095.2 2058.7,2105.2 2061.2,2127.7 2064.2,2150.2 2068.7,2167.7 2071.2,2190.2 2073.2,2212.7 2076.2,2240.3 2078.7,2265.3 2081.2,2290.3 2084.9,2310.3 2087.4,2332.8 2090.8,2377.0 2095.0,2398.2 2097.6,2414.0 2100.3,2422.5 2105.6,2427.8 2107.7,2440.5 2110.3,2456.3 2114.0,2472.2 2116.7,2488.0 2118.8,2496.5 2122.5,2495.4 2126.7,2493.3 2128.3,2503.9 2129.9,2514.5 2132.0,2521.9 2134.1,2523.5 2137.3,2518.7 2139.4,2509.2 2143.1,2507.1 2145.7,2511.3 2148.9,2514.5 2151.6,2509.2 2152.6,2498.6 2153.7,2485.9 2155.3,2479.6 2158.4,2481.7 2160.5,2480.6 2162.7,2473.2 2165.3,2472.2 2167.9,2475.3 2171.1,2482.7 2173.8,2490.1 2175.9,2498.6 2177.5,2507.1 2179.0,2517.6"/>
</g>
<text class="b" text-anchor="end" font-size="68.8" transform="translate(333.5 3057.0) scale(1 1.040)">0</text>
<text class="b" text-anchor="end" font-size="68.8" transform="translate(333.5 2834.8) scale(1 1.040)">400</text>
<text class="b" text-anchor="end" font-size="68.8" transform="translate(333.5 2612.6) scale(1 1.040)">800</text>
<text class="b" text-anchor="end" font-size="68.8" transform="translate(333.5 2390.4) scale(1 1.040)">1200</text>
<text class="b" text-anchor="end" font-size="68.8" transform="translate(333.5 2168.2) scale(1 1.040)">1600</text>
<text class="b" text-anchor="end" font-size="68.8" transform="translate(333.5 1946.0) scale(1 1.040)">2000</text>
<text class="b" text-anchor="middle" font-size="68.8" transform="translate(634.2 3135.0) scale(1 1.040)">300</text>
<text class="b" text-anchor="middle" font-size="68.8" transform="translate(1001.9 3135.0) scale(1 1.040)">400</text>
<text class="b" text-anchor="middle" font-size="68.8" transform="translate(1369.6 3135.0) scale(1 1.040)">500</text>
<text class="b" text-anchor="middle" font-size="68.8" transform="translate(1737.3 3135.0) scale(1 1.040)">600</text>
<text class="b" text-anchor="middle" font-size="68.8" transform="translate(2105.0 3135.0) scale(1 1.040)">700</text>
<text class="b" text-anchor="middle" font-size="81.2" transform="translate(1278.2 3217.0)">Wavelength (nm)</text>
<text class="b" text-anchor="middle" font-size="81" transform="translate(125.0 2452.5) rotate(-90)">Intensity (a.u.)</text>
<text class="cap" text-anchor="middle" font-size="86" transform="translate(1101.6 3346.0)">(<tspan font-weight="bold" dx="-1.4">b</tspan><tspan dx="1.2">)</tspan></text>
<line class="ll" x1="508.0" x2="614.2" y1="2060.7" y2="2060.7" stroke="#000000"/>
<text font-size="54.0" transform="translate(629.0 2077.1)">Chl-<tspan class="sy" font-size="51.0" dx="-0.5">Φ</tspan><tspan dx="-1.5">-TEOS-1</tspan></text>
<line class="ll" x1="508.0" x2="614.2" y1="2125.5" y2="2125.5" stroke="#ff0000"/>
<text font-size="54.0" transform="translate(629.0 2141.9)">Chl-<tspan class="sy" font-size="51.0" dx="-0.5">Φ</tspan><tspan dx="-1.5">-TEOS-2</tspan></text>
<line class="ll" x1="508.0" x2="614.2" y1="2190.3" y2="2190.3" stroke="#00ff00"/>
<text font-size="54.0" transform="translate(629.0 2206.7)">Chl-<tspan class="sy" font-size="51.0" dx="-0.5">Φ</tspan><tspan dx="-1.5">-TEOS-3</tspan></text>
<line class="ll" x1="508.0" x2="614.2" y1="2255.1" y2="2255.1" stroke="#0000ff"/>
<text font-size="54.0" transform="translate(629.0 2271.5)">Chl-<tspan class="sy" font-size="51.0" dx="-0.5">Φ</tspan><tspan dx="-1.5">-TEOS-7</tspan></text>
<line class="ll" x1="508.0" x2="614.2" y1="2319.9" y2="2319.9" stroke="#00ffff"/>
<text font-size="54.0" transform="translate(629.0 2336.3)">Chl-<tspan class="sy" font-size="51.0" dx="-0.5">Φ</tspan><tspan dx="-1.5">-TEOS-10</tspan></text>
<text class="b" font-size="62.4" transform="translate(1251.5 2102.0) scale(1 1.040)"><tspan class="sy" font-size="62.4">λ</tspan><tspan x="32.6" dy="23.6" font-weight="normal" font-size="36.3">0</tspan><tspan x="54.0" dy="-23.6">= 750 nm</tspan></text>
<text class="b" text-anchor="middle" font-size="62.4" transform="translate(2041.8 1868.8) scale(1 1.040)">685</text>
<text class="b" text-anchor="middle" font-size="62.4" transform="translate(1777.3 2240.5) scale(1 1.040)">615</text>
<text class="b" text-anchor="middle" font-size="62.4" transform="translate(1019.2 2630.0) scale(1 1.040)">403</text>
<text class="b" text-anchor="middle" font-size="62.4" transform="translate(1961.6 2887.0) scale(1 1.040)">663</text>
</svg></body></html>
